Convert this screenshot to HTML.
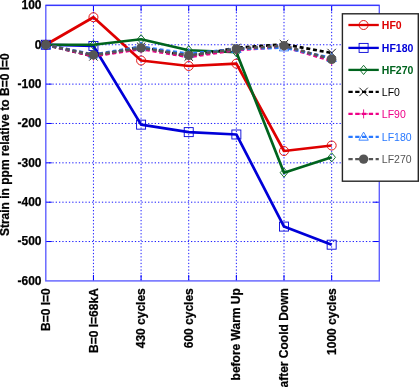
<!DOCTYPE html>
<html><head><meta charset="utf-8"><title>Strain chart</title>
<style>html,body{margin:0;padding:0;background:#fff}svg{display:block}text{font-family:"Liberation Sans",Arial,Helvetica,sans-serif}</style></head><body>
<svg width="419" height="387" viewBox="0 0 419 387">
<rect width="419" height="387" fill="#fff"/>
<g stroke="#0000ff" stroke-width="0.9" stroke-dasharray="1.3 2" fill="none">
<line x1="93.44" y1="5.4" x2="93.44" y2="280.9"/>
<line x1="141.09" y1="5.4" x2="141.09" y2="280.9"/>
<line x1="188.73" y1="5.4" x2="188.73" y2="280.9"/>
<line x1="236.37" y1="5.4" x2="236.37" y2="280.9"/>
<line x1="284.01" y1="5.4" x2="284.01" y2="280.9"/>
<line x1="331.66" y1="5.4" x2="331.66" y2="280.9"/>
<line x1="45.8" y1="44.76" x2="379.3" y2="44.76"/>
<line x1="45.8" y1="84.11" x2="379.3" y2="84.11"/>
<line x1="45.8" y1="123.47" x2="379.3" y2="123.47"/>
<line x1="45.8" y1="162.83" x2="379.3" y2="162.83"/>
<line x1="45.8" y1="202.19" x2="379.3" y2="202.19"/>
<line x1="45.8" y1="241.54" x2="379.3" y2="241.54"/>
</g>
<g stroke="#0000ff" stroke-width="1" fill="none">
<line x1="93.44" y1="280.9" x2="93.44" y2="274.9"/>
<line x1="93.44" y1="5.4" x2="93.44" y2="11.4"/>
<line x1="141.09" y1="280.9" x2="141.09" y2="274.9"/>
<line x1="141.09" y1="5.4" x2="141.09" y2="11.4"/>
<line x1="188.73" y1="280.9" x2="188.73" y2="274.9"/>
<line x1="188.73" y1="5.4" x2="188.73" y2="11.4"/>
<line x1="236.37" y1="280.9" x2="236.37" y2="274.9"/>
<line x1="236.37" y1="5.4" x2="236.37" y2="11.4"/>
<line x1="284.01" y1="280.9" x2="284.01" y2="274.9"/>
<line x1="284.01" y1="5.4" x2="284.01" y2="11.4"/>
<line x1="331.66" y1="280.9" x2="331.66" y2="274.9"/>
<line x1="331.66" y1="5.4" x2="331.66" y2="11.4"/>
<line x1="45.8" y1="44.76" x2="51.8" y2="44.76"/>
<line x1="379.3" y1="44.76" x2="373.3" y2="44.76"/>
<line x1="45.8" y1="84.11" x2="51.8" y2="84.11"/>
<line x1="379.3" y1="84.11" x2="373.3" y2="84.11"/>
<line x1="45.8" y1="123.47" x2="51.8" y2="123.47"/>
<line x1="379.3" y1="123.47" x2="373.3" y2="123.47"/>
<line x1="45.8" y1="162.83" x2="51.8" y2="162.83"/>
<line x1="379.3" y1="162.83" x2="373.3" y2="162.83"/>
<line x1="45.8" y1="202.19" x2="51.8" y2="202.19"/>
<line x1="379.3" y1="202.19" x2="373.3" y2="202.19"/>
<line x1="45.8" y1="241.54" x2="51.8" y2="241.54"/>
<line x1="379.3" y1="241.54" x2="373.3" y2="241.54"/>
</g>
<rect x="45.8" y="5.4" width="333.50" height="275.50" fill="none" stroke="#6060ff" stroke-width="1.4"/>
<line x1="45.8" y1="5.4" x2="379.3" y2="5.4" stroke="#3838ff" stroke-width="1.1"/>
<polyline points="45.80,44.76 93.44,17.21 141.09,60.50 188.73,66.01 236.37,63.65 284.01,151.02 331.66,145.51" fill="none" stroke="#de0000" stroke-width="2.7" stroke-linejoin="round"/>
<circle cx="45.80" cy="44.76" r="4.50" fill="none" stroke="#de0000" stroke-width="0.9"/>
<circle cx="93.44" cy="17.21" r="4.50" fill="none" stroke="#de0000" stroke-width="0.9"/>
<circle cx="141.09" cy="60.50" r="4.50" fill="none" stroke="#de0000" stroke-width="0.9"/>
<circle cx="188.73" cy="66.01" r="4.50" fill="none" stroke="#de0000" stroke-width="0.9"/>
<circle cx="236.37" cy="63.65" r="4.50" fill="none" stroke="#de0000" stroke-width="0.9"/>
<circle cx="284.01" cy="151.02" r="4.50" fill="none" stroke="#de0000" stroke-width="0.9"/>
<circle cx="331.66" cy="145.51" r="4.50" fill="none" stroke="#de0000" stroke-width="0.9"/>
<polyline points="45.80,44.76 93.44,45.94 141.09,124.65 188.73,132.13 236.37,134.49 284.01,226.59 331.66,244.69" fill="none" stroke="#0000d8" stroke-width="2.7" stroke-linejoin="round"/>
<rect x="41.30" y="40.26" width="9.00" height="9.00" fill="none" stroke="#0000d8" stroke-width="0.9"/>
<rect x="88.94" y="41.44" width="9.00" height="9.00" fill="none" stroke="#0000d8" stroke-width="0.9"/>
<rect x="136.59" y="120.15" width="9.00" height="9.00" fill="none" stroke="#0000d8" stroke-width="0.9"/>
<rect x="184.23" y="127.63" width="9.00" height="9.00" fill="none" stroke="#0000d8" stroke-width="0.9"/>
<rect x="231.87" y="129.99" width="9.00" height="9.00" fill="none" stroke="#0000d8" stroke-width="0.9"/>
<rect x="279.51" y="222.09" width="9.00" height="9.00" fill="none" stroke="#0000d8" stroke-width="0.9"/>
<rect x="327.16" y="240.19" width="9.00" height="9.00" fill="none" stroke="#0000d8" stroke-width="0.9"/>
<polyline points="45.80,44.76 93.44,44.76 141.09,39.25 188.73,50.27 236.37,52.23 284.01,172.67 331.66,157.32" fill="none" stroke="#00641e" stroke-width="2.7" stroke-linejoin="round"/>
<path d="M45.80 40.16L49.60 44.76L45.80 49.36L42.00 44.76Z" fill="none" stroke="#00641e" stroke-width="0.9"/>
<path d="M93.44 40.16L97.24 44.76L93.44 49.36L89.64 44.76Z" fill="none" stroke="#00641e" stroke-width="0.9"/>
<path d="M141.09 34.65L144.89 39.25L141.09 43.85L137.29 39.25Z" fill="none" stroke="#00641e" stroke-width="0.9"/>
<path d="M188.73 45.67L192.53 50.27L188.73 54.87L184.93 50.27Z" fill="none" stroke="#00641e" stroke-width="0.9"/>
<path d="M236.37 47.63L240.17 52.23L236.37 56.83L232.57 52.23Z" fill="none" stroke="#00641e" stroke-width="0.9"/>
<path d="M284.01 168.07L287.81 172.67L284.01 177.27L280.21 172.67Z" fill="none" stroke="#00641e" stroke-width="0.9"/>
<path d="M331.66 152.72L335.46 157.32L331.66 161.92L327.86 157.32Z" fill="none" stroke="#00641e" stroke-width="0.9"/>
<polyline points="45.80,44.76 93.44,56.37 141.09,46.72 188.73,56.56 236.37,47.91 284.01,44.17 331.66,53.02" fill="none" stroke="#000000" stroke-width="2.7" stroke-linejoin="round" stroke-dasharray="4 2.8"/>
<path d="M41.60 40.56L50.00 48.96M41.60 48.96L50.00 40.56" fill="none" stroke="#000000" stroke-width="0.9"/>
<path d="M89.24 52.17L97.64 60.57M89.24 60.57L97.64 52.17" fill="none" stroke="#000000" stroke-width="0.9"/>
<path d="M136.89 42.52L145.29 50.92M136.89 50.92L145.29 42.52" fill="none" stroke="#000000" stroke-width="0.9"/>
<path d="M184.53 52.36L192.93 60.76M184.53 60.76L192.93 52.36" fill="none" stroke="#000000" stroke-width="0.9"/>
<path d="M232.17 43.71L240.57 52.11M232.17 52.11L240.57 43.71" fill="none" stroke="#000000" stroke-width="0.9"/>
<path d="M279.81 39.97L288.21 48.37M279.81 48.37L288.21 39.97" fill="none" stroke="#000000" stroke-width="0.9"/>
<path d="M327.46 48.82L335.86 57.22M327.46 57.22L335.86 48.82" fill="none" stroke="#000000" stroke-width="0.9"/>
<polyline points="45.80,44.76 93.44,56.17 141.09,49.09 188.73,56.96 236.37,50.07 284.01,46.72 331.66,60.89" fill="none" stroke="#ee0088" stroke-width="2.7" stroke-linejoin="round" stroke-dasharray="4 2.8"/>
<path d="M41.30 44.76L50.30 44.76M45.80 40.26L45.80 49.26" fill="none" stroke="#ee0088" stroke-width="0.9"/>
<path d="M88.94 56.17L97.94 56.17M93.44 51.67L93.44 60.67" fill="none" stroke="#ee0088" stroke-width="0.9"/>
<path d="M136.59 49.09L145.59 49.09M141.09 44.59L141.09 53.59" fill="none" stroke="#ee0088" stroke-width="0.9"/>
<path d="M184.23 56.96L193.23 56.96M188.73 52.46L188.73 61.46" fill="none" stroke="#ee0088" stroke-width="0.9"/>
<path d="M231.87 50.07L240.87 50.07M236.37 45.57L236.37 54.57" fill="none" stroke="#ee0088" stroke-width="0.9"/>
<path d="M279.51 46.72L288.51 46.72M284.01 42.22L284.01 51.22" fill="none" stroke="#ee0088" stroke-width="0.9"/>
<path d="M327.16 60.89L336.16 60.89M331.66 56.39L331.66 65.39" fill="none" stroke="#ee0088" stroke-width="0.9"/>
<polyline points="45.80,44.76 93.44,54.60 141.09,46.72 188.73,53.81 236.37,49.09 284.01,47.51 331.66,58.14" fill="none" stroke="#2878ff" stroke-width="2.7" stroke-linejoin="round" stroke-dasharray="4 2.8"/>
<path d="M45.80 40.06L50.50 48.14L41.10 48.14Z" fill="none" stroke="#2878ff" stroke-width="0.9"/>
<path d="M93.44 49.90L98.14 57.98L88.74 57.98Z" fill="none" stroke="#2878ff" stroke-width="0.9"/>
<path d="M141.09 42.02L145.79 50.11L136.39 50.11Z" fill="none" stroke="#2878ff" stroke-width="0.9"/>
<path d="M188.73 49.11L193.43 57.19L184.03 57.19Z" fill="none" stroke="#2878ff" stroke-width="0.9"/>
<path d="M236.37 44.39L241.07 52.47L231.67 52.47Z" fill="none" stroke="#2878ff" stroke-width="0.9"/>
<path d="M284.01 42.81L288.71 50.90L279.31 50.90Z" fill="none" stroke="#2878ff" stroke-width="0.9"/>
<path d="M331.66 53.44L336.36 61.52L326.96 61.52Z" fill="none" stroke="#2878ff" stroke-width="0.9"/>
<polyline points="45.80,44.76 93.44,54.99 141.09,47.91 188.73,55.38 236.37,48.89 284.01,45.74 331.66,59.32" fill="none" stroke="#555555" stroke-width="2.7" stroke-linejoin="round" stroke-dasharray="4 2.8"/>
<circle cx="45.80" cy="44.76" r="4.70" fill="#555555"/>
<circle cx="93.44" cy="54.99" r="4.70" fill="#555555"/>
<circle cx="141.09" cy="47.91" r="4.70" fill="#555555"/>
<circle cx="188.73" cy="55.38" r="4.70" fill="#555555"/>
<circle cx="236.37" cy="48.89" r="4.70" fill="#555555"/>
<circle cx="284.01" cy="45.74" r="4.70" fill="#555555"/>
<circle cx="331.66" cy="59.32" r="4.70" fill="#555555"/>
<g font-size="12" font-weight="bold" fill="#000" stroke="#000" stroke-width="0.25" text-anchor="end">
<text x="41.5" y="9.30">100</text>
<text x="41.5" y="48.66">0</text>
<text x="41.5" y="88.01">-100</text>
<text x="41.5" y="127.37">-200</text>
<text x="41.5" y="166.73">-300</text>
<text x="41.5" y="206.09">-400</text>
<text x="41.5" y="245.44">-500</text>
<text x="41.5" y="284.80">-600</text>
</g>
<text transform="translate(8.8,144.7) rotate(-90)" font-size="12" font-weight="bold" text-anchor="middle" fill="#000" stroke="#000" stroke-width="0.25">Strain in ppm relative to B=0 I=0</text>
<g font-size="12" font-weight="bold" fill="#000" stroke="#000" stroke-width="0.25" text-anchor="end">
<text transform="translate(49.90,288.2) rotate(-90)">B=0 I=0</text>
<text transform="translate(97.54,288.2) rotate(-90)">B=0 I=68kA</text>
<text transform="translate(145.19,288.2) rotate(-90)">430 cycles</text>
<text transform="translate(192.83,288.2) rotate(-90)">600 cycles</text>
<text transform="translate(240.47,288.2) rotate(-90)">before Warm Up</text>
<text transform="translate(288.11,288.2) rotate(-90)">after Coold Down</text>
<text transform="translate(335.76,288.2) rotate(-90)">1000 cycles</text>
</g>
<rect x="342.4" y="13.8" width="75.9" height="167.4" fill="#fff" stroke="#262626" stroke-width="1.4"/>
<line x1="348.4" y1="25.00" x2="378.8" y2="25.00" stroke="#de0000" stroke-width="2.3"/>
<circle cx="363.60" cy="25.00" r="4.50" fill="none" stroke="#de0000" stroke-width="0.9"/>
<text x="381.8" y="28.80" font-size="10.5" font-weight="bold" fill="#de0000">HF0</text>
<line x1="348.4" y1="47.90" x2="378.8" y2="47.90" stroke="#0000d8" stroke-width="2.3"/>
<rect x="359.10" y="43.40" width="9.00" height="9.00" fill="none" stroke="#0000d8" stroke-width="0.9"/>
<text x="381.8" y="51.70" font-size="10.5" font-weight="bold" fill="#0000d8">HF180</text>
<line x1="348.4" y1="69.90" x2="378.8" y2="69.90" stroke="#00641e" stroke-width="2.3"/>
<path d="M363.60 65.30L367.40 69.90L363.60 74.50L359.80 69.90Z" fill="none" stroke="#00641e" stroke-width="0.9"/>
<text x="381.8" y="73.70" font-size="10.5" font-weight="bold" fill="#00641e">HF270</text>
<line x1="348.4" y1="91.90" x2="378.8" y2="91.90" stroke="#000000" stroke-width="2.3" stroke-dasharray="4.3 2.5"/>
<path d="M359.40 87.70L367.80 96.10M359.40 96.10L367.80 87.70" fill="none" stroke="#000000" stroke-width="0.9"/>
<text x="381.8" y="95.70" font-size="10.5" fill="#000000">LF0</text>
<line x1="348.4" y1="113.90" x2="378.8" y2="113.90" stroke="#ee0088" stroke-width="2.3" stroke-dasharray="4.3 2.5"/>
<path d="M359.10 113.90L368.10 113.90M363.60 109.40L363.60 118.40" fill="none" stroke="#ee0088" stroke-width="0.9"/>
<text x="381.8" y="117.70" font-size="10.5" fill="#ee0088">LF90</text>
<line x1="348.4" y1="136.80" x2="378.8" y2="136.80" stroke="#2878ff" stroke-width="2.3" stroke-dasharray="4.3 2.5"/>
<path d="M363.60 132.10L368.30 140.18L358.90 140.18Z" fill="none" stroke="#2878ff" stroke-width="0.9"/>
<text x="381.8" y="140.60" font-size="10.5" fill="#2878ff">LF180</text>
<line x1="348.4" y1="159.10" x2="378.8" y2="159.10" stroke="#555555" stroke-width="2.3" stroke-dasharray="4.3 2.5"/>
<circle cx="363.60" cy="159.10" r="4.70" fill="#555555"/>
<text x="381.8" y="162.90" font-size="10.5" fill="#555555">LF270</text>
</svg></body></html>
